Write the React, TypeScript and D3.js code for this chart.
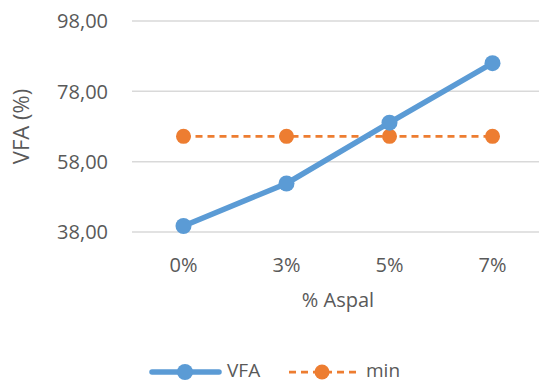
import React from "react";
import * as d3 from "d3";

const categories = ["0%", "3%", "5%", "7%"];
const vfaValues = [39.7, 51.8, 69.1, 86.0];
const minValues = [65.2, 65.2, 65.2, 65.2];
const yTicks = [38, 58, 78, 98];

const W = 539;
const H = 383;
const FONT = "'Open Sans', sans-serif";
const TEXT = "#595959";
const BLUE = "#5B9BD5";
const ORANGE = "#ED7D31";

export default function App() {
  const x = d3.scaleBand<string>().domain(categories).range([132, 544]);
  const y = d3.scaleLinear().domain([38, 98]).range([232, 21]);
  const cx = (c: string) => (x(c) as number) + x.bandwidth() / 2;
  const line = d3
    .line<number>()
    .x((_, i) => cx(categories[i]))
    .y((d) => y(d));
  const fmt = (v: number) => v.toFixed(2).replace(".", ",");

  return (
    <svg
      width={W}
      height={H}
      style={{ position: "absolute", left: 0, top: 0, background: "#fff" }}
      fontFamily={FONT}
    >
      {yTicks.map((t) => (
        <g key={t}>
          <line x1={132} x2={544} y1={y(t)} y2={y(t)} stroke="#d9d9d9" strokeWidth={1.5} />
          <text x={108} y={y(t)} dy="0.36em" textAnchor="end" fontSize={20} fill={TEXT}>
            {fmt(t)}
          </text>
        </g>
      ))}
      {categories.map((c) => (
        <text key={c} x={cx(c)} y={272} textAnchor="middle" fontSize={20} fill={TEXT}>
          {c}
        </text>
      ))}
      <text x={338} y={307} textAnchor="middle" fontSize={20} fill={TEXT}>
        % Aspal
      </text>
      <text
        transform={`translate(29,${(21 + 232) / 2}) rotate(-90)`}
        textAnchor="middle"
        fontSize={22}
        fill={TEXT}
      >
        VFA (%)
      </text>

      <path d={line(minValues) || ""} fill="none" stroke={ORANGE} strokeWidth={2.75} strokeDasharray="7,5" />
      {minValues.map((v, i) => (
        <circle key={"m" + i} cx={cx(categories[i])} cy={y(v)} r={7.5} fill={ORANGE} />
      ))}
      <path d={line(vfaValues) || ""} fill="none" stroke={BLUE} strokeWidth={5.5} strokeLinecap="round" />
      {vfaValues.map((v, i) => (
        <circle key={"v" + i} cx={cx(categories[i])} cy={y(v)} r={8} fill={BLUE} />
      ))}

      <g>
        <line x1={152} x2={219} y1={372} y2={372} stroke={BLUE} strokeWidth={5.5} strokeLinecap="round" />
        <circle cx={185} cy={372} r={8} fill={BLUE} />
        <text x={227} y={377} fontSize={19} fill={TEXT}>VFA</text>
        <line x1={289} x2={358} y1={372} y2={372} stroke={ORANGE} strokeWidth={2.75} strokeDasharray="7,5" />
        <circle cx={322} cy={372} r={7.5} fill={ORANGE} />
        <text x={366} y={377} fontSize={19} fill={TEXT}>min</text>
      </g>
    </svg>
  );
}
